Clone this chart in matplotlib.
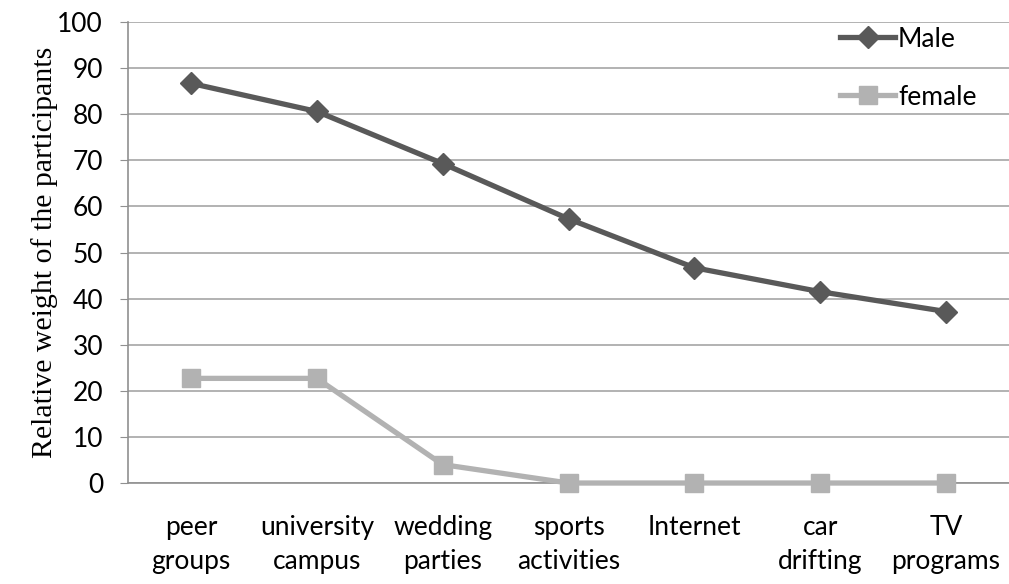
import matplotlib
matplotlib.use("Agg")
import matplotlib.pyplot as plt

# sources of influence and share of participants per gender
categories = ["peer\ngroups", "university\ncampus", "wedding\nparties", "sports\nactivities",
              "Internet", "car\ndrifting", "TV\nprograms"]
male = [86.7, 80.6, 69.3, 57.3, 46.7, 41.5, 37.2]
female = [22.7, 22.7, 4.0, 0, 0, 0, 0]
yticks = list(range(0, 101, 10))

plt.rcParams['font.family'] = ['Lato', 'DejaVu Sans']

fig = plt.figure(figsize=(10.09, 5.84), dpi=100)
ax = fig.add_axes([0.1269, 0.1729, 0.8731, 0.7894])

x = list(range(len(categories)))
ax.plot(x, male, color="#595959", lw=3.8, marker="D", ms=11.5, label="Male",
        clip_on=False, zorder=4)
ax.plot(x, female, color="#b2b2b2", lw=3.8, marker="s", ms=12.5, label="female",
        clip_on=False, zorder=3)

ax.set_xlim(-0.5, len(categories) - 0.5)
ax.set_ylim(0, 100)
ax.set_yticks(yticks)
ax.set_xticks(x)
ax.set_xticklabels(categories, fontsize=19, linespacing=1.45)
ax.tick_params(axis="y", labelsize=19, length=6, color="#909090", pad=12)
ax.tick_params(axis="x", length=0, pad=23)

ax.grid(axis="y", color="#a6a6a6", lw=1.2)
ax.set_axisbelow(True)
for side in ["top", "right"]:
    ax.spines[side].set_visible(False)
ax.spines["left"].set_color("#909090")
ax.spines["bottom"].set_color("#909090")
ax.spines["left"].set_linewidth(1.2)
ax.spines["bottom"].set_linewidth(1.2)

ax.set_ylabel("Relative weight of the participants", family="Liberation Serif",
              fontsize=21.5)
ax.yaxis.set_label_coords(-0.08, 0.5)

ax.legend(loc="upper left", bbox_to_anchor=(0.808, 0.99), frameon=False, fontsize=19,
          handlelength=2.1, handletextpad=0.1, labelspacing=1.25, borderaxespad=0,
          borderpad=0)

fig.savefig("out.png", dpi=100)
